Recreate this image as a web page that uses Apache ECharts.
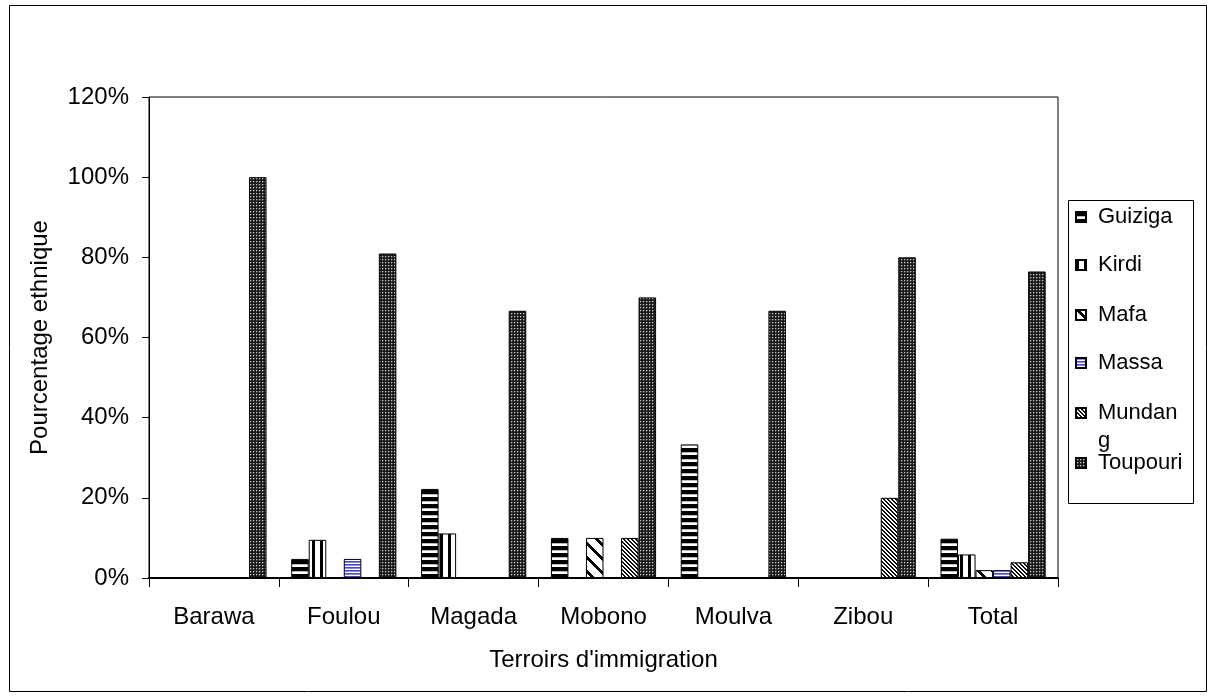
<!DOCTYPE html>
<html>
<head>
<meta charset="utf-8">
<script src="https://cdn.jsdelivr.net/npm/echarts@6/dist/echarts.min.js"></script>
<style>
html,body{margin:0;padding:0;background:#fff;}
#chart{width:1216px;height:700px;}
</style>
</head>
<body>
<div id="chart"></div>
<script>
// ---- data ----
const categories = ['Barawa', 'Foulou', 'Magada', 'Mobono', 'Moulva', 'Zibou', 'Total'];
const seriesNames = ['Guiziga', 'Kirdi', 'Mafa', 'Massa', 'Mundang', 'Toupouri'];
const guiziga  = [0, 4.76, 22.22, 10, 33.33, 0, 9.80];
const kirdi    = [0, 9.52, 11.11, 0, 0, 0, 5.88];
const mafa     = [0, 0, 0, 10, 0, 0, 1.96];
const massa    = [0, 4.76, 0, 0, 0, 0, 1.96];
const mundang  = [0, 0, 0, 10, 0, 20, 3.92];
const toupouri = [100, 80.95, 66.67, 70, 66.67, 80, 76.47];
const yTicks = [0, 20, 40, 60, 80, 100, 120];
const xAxisTitle = "Terroirs d'immigration";
const yAxisTitle = 'Pourcentage ethnique';

// ---- patterns ----
function tile(w, h, fn) {
  const c = document.createElement('canvas');
  c.width = w; c.height = h;
  const ctx = c.getContext('2d');
  for (let y = 0; y < h; y++) for (let x = 0; x < w; x++) {
    ctx.fillStyle = fn(x, y);
    ctx.fillRect(x, y, 1, 1);
  }
  return { image: c, repeat: 'repeat' };
}
const patterns = {
  Guiziga: tile(1, 7, (x, y) => y < 4 ? '#000' : (y === 4 ? '#bbb' : '#fff')),
  Kirdi: tile(8, 1, (x) => x < 3 ? '#000' : '#fff'),
  Mafa: tile(14, 14, (x, y) => (((x - y) % 14) + 14) % 14 < 4 ? '#000' : '#fff'),
  Massa: tile(1, 3, (x, y) => y === 0 ? '#4848c4' : (y === 1 ? '#8a8ae0' : '#fff')),
  Mundang: tile(4, 4, (x, y) => (((x - y) % 4) + 4) % 4 < 2 ? '#111' : '#fff'),
  Toupouri: tile(3, 3, (x, y) => (x === 1 && y === 1) ? '#c8c8c8' : ((x === 2 && y === 1) || (x === 1 && y === 2) ? '#555' : '#1a1a1a'))
};
const dataBySeries = { Guiziga: guiziga, Kirdi: kirdi, Mafa: mafa, Massa: massa, Mundang: mundang, Toupouri: toupouri };

const font = 'Liberation Sans, Arial, sans-serif';

const series = seriesNames.map(n => ({
  name: n,
  type: 'bar',
  barGap: '0%',
  barCategoryGap: '19%',
  itemStyle: { color: patterns[n], borderColor: '#000', borderWidth: 1 },
  emphasis: { disabled: true },
  data: dataBySeries[n].map(v => v === 0 ? null : v)
}));

// legend: one component per item for exact placement
const legendCenters = [217, 265, 315, 363, 413, 463];
const legends = seriesNames.map((n, i) => {
  const isM = n === 'Mundang';
  return {
    data: [n],
    orient: 'vertical',
    left: 1075,
    top: isM ? legendCenters[i] - 42 : legendCenters[i] - 14,
    padding: 0,
    itemWidth: 10,
    itemHeight: 10,
    icon: 'rect',
    selectedMode: false,
    formatter: isM ? '\nMundan\ng' : '{name}',
    textStyle: {
      fontFamily: font, fontSize: 22, color: '#000', lineHeight: 28,
      padding: [0, 0, 0, 7]
    }
  };
});

const chart = echarts.init(document.getElementById('chart'), null, { renderer: 'canvas' });
chart.setOption({
  animation: false,
  backgroundColor: '#fff',
  grid: { left: 149, right: 158, top: 97, bottom: 122, show: true, borderColor: '#000', borderWidth: 1, backgroundColor: 'transparent' },
  legend: legends,
  xAxis: {
    type: 'category',
    data: categories,
    name: xAxisTitle,
    nameLocation: 'middle',
    nameGap: 70,
    nameTextStyle: { fontFamily: font, fontSize: 24, color: '#000' },
    axisLine: { lineStyle: { color: '#000', width: 2 } },
    axisTick: { show: true, length: 9, lineStyle: { color: '#000', width: 1 } },
    axisLabel: { fontFamily: font, fontSize: 24, color: '#000', margin: 27 },
    splitLine: { show: false }
  },
  yAxis: {
    type: 'value',
    min: yTicks[0],
    max: yTicks[yTicks.length - 1],
    interval: 20,
    name: yAxisTitle,
    nameLocation: 'middle',
    nameGap: 97,
    nameTextStyle: { fontFamily: font, fontSize: 24, color: '#000' },
    axisLine: { show: true, lineStyle: { color: '#000', width: 1 } },
    axisTick: { show: true, length: 7, lineStyle: { color: '#000', width: 1 } },
    axisLabel: { fontFamily: font, fontSize: 24, color: '#000', margin: 20, formatter: '{value}%' },
    splitLine: { show: false }
  },
  graphic: [
    { type: 'rect', shape: { x: 9.5, y: 5.5, width: 1197, height: 686 }, style: { fill: 'none', stroke: '#000', lineWidth: 1 }, silent: true, z: -10 },
    { type: 'rect', shape: { x: 1068.5, y: 200.5, width: 125, height: 303 }, style: { fill: '#fff', stroke: '#000', lineWidth: 1 }, silent: true, z: -5 }
  ],
  series: series
});
</script>
</body>
</html>
